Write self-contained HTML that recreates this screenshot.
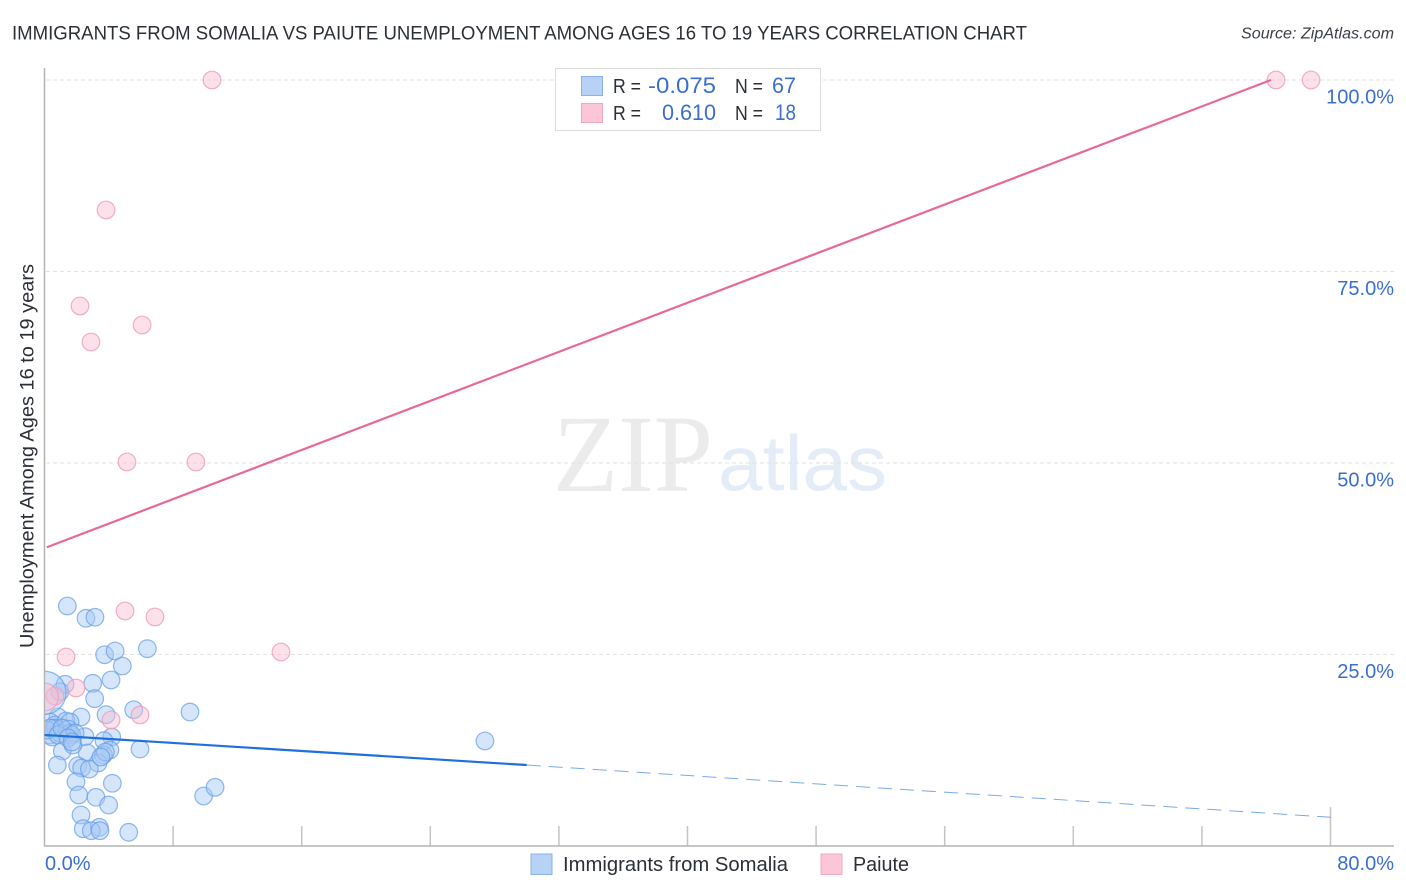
<!DOCTYPE html>
<html lang="en">
<head>
<meta charset="utf-8">
<title>Immigrants from Somalia vs Paiute Unemployment Chart</title>
<style>
html,body{margin:0;padding:0;background:#fff;}
svg{display:block;font-family:"Liberation Sans",sans-serif;}
</style>
</head>
<body>
<svg id="chart" xmlns="http://www.w3.org/2000/svg" width="1406" height="892" viewBox="0 0 1406 892">
  <defs>
    <clipPath id="plot-clip"><rect x="45" y="60" width="1350" height="786"/></clipPath>
  </defs>
  <rect x="0" y="0" width="1406" height="892" fill="#fff"/>
  <text x="12" y="39.5" font-size="19.5" fill="#2b2f36" textLength="1015" lengthAdjust="spacingAndGlyphs">IMMIGRANTS FROM SOMALIA VS PAIUTE UNEMPLOYMENT AMONG AGES 16 TO 19 YEARS CORRELATION CHART</text>
  <text x="1241" y="38.5" font-size="15.5" font-style="italic" fill="#3a3f46" textLength="153" lengthAdjust="spacingAndGlyphs">Source: ZipAtlas.com</text>

  <g>
    <text x="553" y="491" font-family="'Liberation Serif',serif" font-size="110" fill="#ebebeb" textLength="160" lengthAdjust="spacingAndGlyphs">ZIP</text>
    <text x="718" y="490" font-size="78" fill="#e4ecf8" textLength="169" lengthAdjust="spacingAndGlyphs">atlas</text>
  </g>

  <g id="grid"></g>
  <g id="axes"></g>
  <g id="marks" clip-path="url(#plot-clip)"></g>
  <g id="lines"></g>
  <g id="labels"></g>

  <text transform="translate(33.5,456) rotate(-90)" text-anchor="middle" font-size="19" fill="#2b2f36" textLength="384" lengthAdjust="spacingAndGlyphs">Unemployment Among Ages 16 to 19 years</text>

  <g>
    <rect x="555.5" y="68.5" width="265" height="62" fill="#fff" fill-opacity="0.9" stroke="#dcdcdc" stroke-width="1"/>
    <rect x="581.5" y="76.5" width="21" height="19" fill="#b8d2f6" stroke="#8ab2ea"/>
    <rect x="581.5" y="103.5" width="21" height="19" fill="#fcc6d7" stroke="#f0a9c0"/>
    <text x="613" y="93" font-size="20" fill="#2b2f36" textLength="28" lengthAdjust="spacingAndGlyphs">R =</text>
    <text x="648" y="93" font-size="22" fill="#3a6fd0" textLength="68" lengthAdjust="spacingAndGlyphs">-0.075</text>
    <text x="735" y="93" font-size="20" fill="#2b2f36" textLength="28" lengthAdjust="spacingAndGlyphs">N =</text>
    <text x="772" y="93" font-size="22" fill="#3a6fd0" textLength="24" lengthAdjust="spacingAndGlyphs">67</text>
    <text x="613" y="120" font-size="20" fill="#2b2f36" textLength="28" lengthAdjust="spacingAndGlyphs">R =</text>
    <text x="662" y="120" font-size="22" fill="#3a6fd0" textLength="54" lengthAdjust="spacingAndGlyphs">0.610</text>
    <text x="735" y="120" font-size="20" fill="#2b2f36" textLength="28" lengthAdjust="spacingAndGlyphs">N =</text>
    <text x="775" y="120" font-size="22" fill="#3a6fd0" textLength="21" lengthAdjust="spacingAndGlyphs">18</text>
  </g>

  <g>
    <rect x="531" y="854" width="21" height="20.5" fill="#b8d2f6" stroke="#8ab2ea"/>
    <text x="563" y="871" font-size="20" fill="#2b2f36" textLength="225" lengthAdjust="spacingAndGlyphs">Immigrants from Somalia</text>
    <rect x="821" y="854" width="21" height="20.5" fill="#fcc6d7" stroke="#f0a9c0"/>
    <text x="853" y="871" font-size="20" fill="#2b2f36" textLength="56" lengthAdjust="spacingAndGlyphs">Paiute</text>
  </g>
</svg>

<script>
// Chart data, in percentage units
const somaliaX = [1.42,2.58,3.14,6.40,3.74,4.39,4.84,4.14,3.00,1.28,0.96,3.12,5.55,9.05,3.83,2.27,0.84,27.40,5.94,4.18,2.52,3.70,4.07,1.11,2.66,3.66,3.33,0.80,2.07,2.31,2.79,4.22,1.96,2.13,3.20,3.99,2.27,2.41,3.41,2.91,3.45,5.24,9.90,10.61,3.79,3.51,0.34,0.65,1.34,1.59,0.34,0.47,0.65,0.96,1.46,1.59,1.71,0.16,0.34,0.84,1.09,1.90,1.46,1.77,1.71,0.00];
const somaliaY = [31.33,29.73,29.86,25.76,24.97,25.46,23.50,21.67,21.24,21.11,20.14,19.23,17.79,17.49,17.14,16.84,16.84,13.71,12.66,14.23,14.27,13.75,12.53,12.40,12.14,11.88,10.84,10.57,10.48,10.18,10.05,8.19,8.39,6.66,6.36,5.35,4.05,2.26,2.44,2.00,2.00,1.79,6.53,7.66,12.27,11.62,16.19,15.80,16.32,16.19,14.49,14.23,15.40,14.75,15.27,14.75,14.49,15.14,15.40,14.49,15.40,14.75,14.10,13.19,13.58,20.00];
const somaliaWeight = [1,1,1,1,1,1,1,1,1,1,1,1,1,1,1,1,1,1,1,1,1,1,1,1,1,1,1,1,1,1,1,1,1,1,1,1,1,1,1,1,1,1,1,1,1,1,1,1,1,1,1,1,1,1,1,1,1,1,1,1,1,1,1,1,1,6];
const paiuteX = [10.42,3.83,2.21,2.89,6.07,5.13,9.42,5.01,6.87,1.34,14.71,1.96,0.65,0.00,4.14,5.94,76.61,78.79];
const paiuteY = [100,83.03,70.50,65.80,68.02,50.13,50.13,30.68,29.90,24.67,25.33,20.63,19.58,19.45,16.45,17.10,100,100];
const paiuteWeight = [1,1,1,1,1,1,1,1,1,1,1,1,1,2.5,1,1,1,1];
const somaliaTrendX = [0,30];
const somaliaTrendY = [14.5,10.57];
const somaliaDashX = [30,80];
const somaliaDashY = [10.57,3.75];
const paiuteTrendX = [0.15,76.3];
const paiuteTrendY = [39,100];
const yTicks = [25,50,75,100];
const yTickLabels = ["25.0%","50.0%","75.0%","100.0%"];
const xTicks = [0,8,16,24,32,40,48,56,64,72,80];
const xEdgeTicks = [0,80];
const xEdgeLabels = ["0.0%","80.0%"];

const NS = 'http://www.w3.org/2000/svg';
const xScale = v => 44.5 + v * 16.075;
const yScale = v => 846 - v * 7.66;
const radius = w => 8.8 * Math.sqrt(w);

function make(tag, parent, attrs) {
  const el = document.createElementNS(NS, tag);
  for (const k in attrs) el.setAttribute(k, attrs[k]);
  parent.appendChild(el);
  return el;
}

const grid = document.getElementById('grid');
const axes = document.getElementById('axes');
const marks = document.getElementById('marks');
const lines = document.getElementById('lines');
const labels = document.getElementById('labels');

yTicks.forEach(function (t, i) {
  const g = make('line', grid, {x1: 46, x2: 1394, y1: yScale(t), y2: yScale(t), stroke: '#e2e2e2', 'stroke-width': 1, 'stroke-dasharray': '4 3'});
  
  
  const lab = make('text', labels, {x: 1394, y: yScale(t) + 23.5, 'text-anchor': 'end', 'font-size': 20, fill: '#3a6fd0'});
  lab.textContent = yTickLabels[i];
  
  
});

xTicks.forEach(function (t, i) {
  if (i === 0) return;
  const top = i === xTicks.length - 1 ? 807 : 826;
  const tk = make('line', axes, {x1: xScale(t), x2: xScale(t), y1: top, y2: 846, stroke: '#c4c4c4', 'stroke-width': 1.5});
  
  
});

const yAxis = make('line', axes, {x1: 44.5, x2: 44.5, y1: 68, y2: 846.5, stroke: '#b4b4b4', 'stroke-width': 1.5});


const xAxis = make('line', axes, {x1: 44, x2: 1394, y1: 846, y2: 846, stroke: '#b4b4b4', 'stroke-width': 1.5});



xEdgeTicks.forEach(function (t, i) {
  const lab = make('text', labels, {x: i === 0 ? 45 : 1394, y: 870, 'text-anchor': i === 0 ? 'start' : 'end', 'font-size': 20, fill: '#3a6fd0'});
  lab.textContent = xEdgeLabels[i];
  
  
});

somaliaX.forEach(function (x, i) {
  const c = make('circle', marks, {cx: xScale(x), cy: yScale(somaliaY[i]), r: radius(somaliaWeight[i]), fill: '#a8c8f4', 'fill-opacity': 0.48, stroke: '#5f9be6', 'stroke-opacity': 0.7, 'stroke-width': 1.2});
  
  
});

paiuteX.forEach(function (x, i) {
  const c = make('circle', marks, {cx: xScale(x), cy: yScale(paiuteY[i]), r: radius(paiuteWeight[i]), fill: '#f9bcd0', 'fill-opacity': 0.45, stroke: '#f0a0b8', 'stroke-opacity': 0.85, 'stroke-width': 1.2});
  
  
});

const dash = make('line', lines, {x1: xScale(somaliaDashX[0]), y1: yScale(somaliaDashY[0]), x2: xScale(somaliaDashX[1]), y2: yScale(somaliaDashY[1]), stroke: '#1f6fdc', 'stroke-opacity': 0.6, 'stroke-width': 1, 'stroke-dasharray': '14 8'});


const blueTrend = make('line', lines, {x1: xScale(somaliaTrendX[0]), y1: yScale(somaliaTrendY[0]), x2: xScale(somaliaTrendX[1]), y2: yScale(somaliaTrendY[1]), stroke: '#1f6fdc', 'stroke-width': 2.2});


const pinkTrend = make('line', lines, {x1: xScale(paiuteTrendX[0]), y1: yScale(paiuteTrendY[0]), x2: xScale(paiuteTrendX[1]), y2: yScale(paiuteTrendY[1]), stroke: '#e8689a', 'stroke-width': 2.2});


</script>
</body>
</html>
